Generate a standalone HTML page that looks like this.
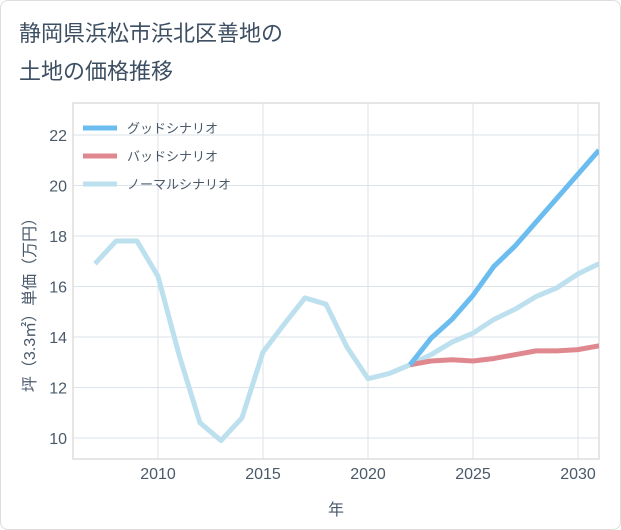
<!DOCTYPE html>
<html><head><meta charset="utf-8"><style>
body{margin:0;background:#fff;font-family:"Liberation Sans","Noto Sans CJK JP",sans-serif;}
#wrap{position:relative;width:619px;height:528px;border:1px solid #ddd;border-radius:8px;overflow:hidden;background:#fff}
</style></head><body>
<div id="wrap">
<svg id="c" width="621" height="530">
<text x="18" y="40" font-size="22" fill="#3d4f62">静岡県浜松市浜北区善地の</text>
<text x="18" y="78" font-size="22" fill="#3d4f62">土地の価格推移</text>
</svg>
</div>
<script>
const years=[2007,2008,2009,2010,2011,2012,2013,2014,2015,2016,2017,2018,2019,2020,2021,2022,2023,2024,2025,2026,2027,2028,2029,2030,2031];
const normal=[16.9,17.8,17.8,16.4,13.3,10.6,9.9,10.8,13.4,14.5,15.55,15.3,13.6,12.35,12.55,12.9,13.3,13.8,14.15,14.7,15.1,15.6,15.95,16.5,16.9];
const goodYears=[2022,2023,2024,2025,2026,2027,2028,2029,2030,2031];
const good=[12.9,13.95,14.7,15.65,16.8,17.6,18.55,19.5,20.45,21.4];
const bad=[12.9,13.05,13.1,13.05,13.15,13.3,13.45,13.45,13.5,13.65];
const xTicks=[2010,2015,2020,2025,2030];
const yTicks=[10,12,14,16,18,20,22];
const NS="http://www.w3.org/2000/svg",svg=document.getElementById('c');
const L=72,R=598,T=102,B=458;
const x=v=>157+(v-2010)*21;
const y=v=>437-(v-10)*25.25;
function mk(t,a){const e=document.createElementNS(NS,t);for(const k in a)e.setAttribute(k,a[k]);svg.appendChild(e);return e;}
const frame=mk('rect',{x:L,y:T,width:R-L,height:B-T,fill:'none',stroke:'#ccc'});


xTicks.forEach(t=>{const g=mk('line',{x1:x(t),x2:x(t),y1:T,y2:B,stroke:'#dde3ea'});


const l=mk('text',{x:x(t),y:478,'font-size':16,fill:'#4a5a6b','text-anchor':'middle'});l.textContent=t;

});
yTicks.forEach(t=>{const g=mk('line',{x1:L,x2:R,y1:y(t),y2:y(t),stroke:'#dde3ea'});


const l=mk('text',{x:66,y:y(t)+6,'font-size':16,fill:'#4a5a6b','text-anchor':'end'});l.textContent=t;

});
const xt=mk('text',{x:335,y:514,'font-size':16,fill:'#4a5a6b','text-anchor':'middle'});xt.textContent='年';


const yt=mk('text',{x:0,y:0,'font-size':16,fill:'#4a5a6b','text-anchor':'middle',transform:'translate(34,300) rotate(-90)'});yt.textContent='坪（3.3㎡）単価（万円）';


const cp=mk('clipPath',{id:'cp'});const cr=document.createElementNS(NS,'rect');cr.setAttribute('x',L);cr.setAttribute('y',T);cr.setAttribute('width',R-L);cr.setAttribute('height',B-T);cp.appendChild(cr);
function line(xs,vs,col,name){const p=mk('polyline',{points:xs.map((v,i)=>x(v)+','+y(vs[i])).join(' '),fill:'none',stroke:col,'stroke-width':5,'stroke-linejoin':'round','clip-path':'url(#cp)'});

}
line(years,normal,'#bde0ee','normal-scenario-line');
line(goodYears,bad,'#e0888f','bad-scenario-line');
line(goodYears,good,'#6bbdf0','good-scenario-line');
[['グッドシナリオ','#6bbdf0'],['バッドシナリオ','#e0888f'],['ノーマルシナリオ','#bde0ee']].forEach((d,i)=>{
const yy=127+i*28;
const s=mk('line',{x1:82,x2:116,y1:yy,y2:yy,stroke:d[1],'stroke-width':5});


const t=mk('text',{x:126,y:yy+5,'font-size':13,fill:'#4a5a6b'});t.textContent=d[0];

});
</script>
</body></html>
